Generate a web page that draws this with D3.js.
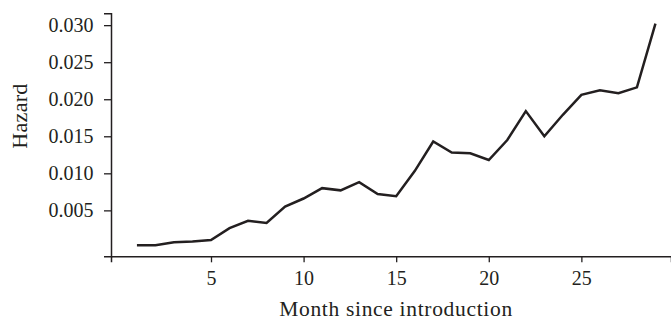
<!DOCTYPE html>
<html><head><meta charset="utf-8">
<script src="https://cdn.jsdelivr.net/npm/d3@7"></script>
<style>
html,body{margin:0;padding:0;background:#fff;}
svg{display:block;}
text{font-family:"Liberation Serif","Times New Roman",serif;fill:#231f20;}
</style></head>
<body>
<svg id="chart" width="671" height="321"></svg>
<script>
const months = [1,2,3,4,5,6,7,8,9,10,11,12,13,14,15,16,17,18,19,20,21,22,23,24,25,26,27,28,29];
const hazard = [0.0003,0.0003,0.0007,0.0008,0.0010,0.0026,0.0036,0.0033,0.0055,0.0066,0.0080,0.0077,0.0088,0.0072,0.0069,0.0103,0.0143,0.0128,0.0127,0.0118,0.0145,0.0184,0.0150,0.0179,0.0206,0.0212,0.0208,0.0216,0.0302];
const xTicks = [5,10,15,20,25];
const yTicks = [0.005,0.010,0.015,0.020,0.025,0.030];
const xLabel = "Month since introduction";
const yLabel = "Hazard";

const svg = d3.select("#chart");
const x = d3.scaleLinear().domain([-0.4, 29.84]).range([111, 671]);
const y = d3.scaleLinear().domain([-0.0012, 0.0316]).range([256.3, 13.3]);
const ink = "#231f20";

const xAxis = svg.append("g").attr("transform","translate(0,256.3)")
  .call(d3.axisBottom(x).tickValues(xTicks).tickFormat(d3.format("d")).tickSizeOuter(0).tickSize(6).tickPadding(8.5));
const yAxis = svg.append("g").attr("transform","translate(111,0)")
  .call(d3.axisLeft(y).tickValues(yTicks).tickFormat(d3.format(".3f")).tickSizeOuter(0).tickSize(7).tickPadding(10.5));
[xAxis,yAxis].forEach(g=>{
  g.select(".domain").attr("stroke",ink).attr("stroke-width",1.5);
  g.selectAll(".tick line").attr("stroke",ink).attr("stroke-width",1.3);
  g.selectAll(".tick text").attr("font-size",20).attr("font-family","Liberation Serif").attr("fill",ink);
});

svg.append("path").datum(months.map((m,i)=>[m,hazard[i]]))
  .attr("fill","none").attr("stroke",ink).attr("stroke-width",2.5).attr("stroke-linejoin","miter")
  .attr("d", d3.line().x(d=>x(d[0])).y(d=>y(d[1])));

svg.append("text").attr("x",396).attr("y",316).attr("text-anchor","middle")
  .attr("font-size",21.5).attr("letter-spacing",0.68).text(xLabel);
svg.append("text").attr("transform","translate(26.5,116) rotate(-90)").attr("text-anchor","middle")
  .attr("font-size",22).attr("letter-spacing",0.3).text(yLabel);
</script>
</body></html>
